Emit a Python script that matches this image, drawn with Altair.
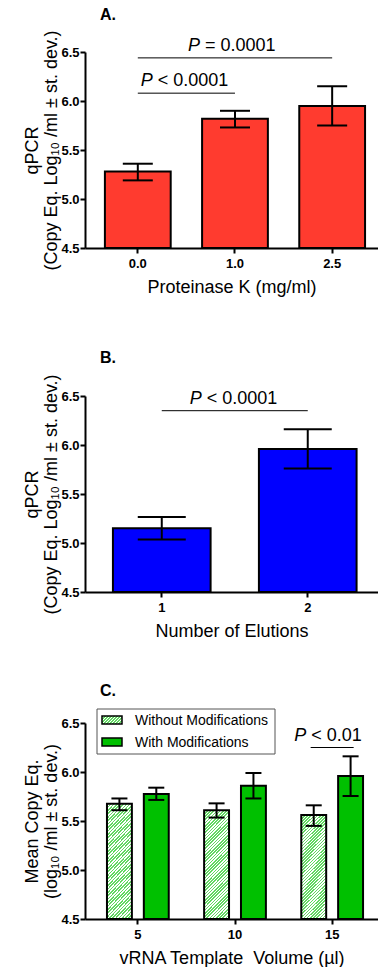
import altair as alt
import pandas as pd

FONT = "Liberation Sans"

# ---------------- data ----------------
# Panel A
a_cats = ["0.0", "1.0", "2.5"]
a_mean = [5.28, 5.82, 5.95]
a_lo = [5.19, 5.73, 5.75]
a_hi = [5.36, 5.90, 6.15]
a_sig_from = ["0.0", "0.0"]
a_sig_to = ["1.0", "2.5"]
a_sig_y = [6.08, 6.44]
a_sig_txt = ["< 0.0001", "= 0.0001"]

# Panel B
b_cats = ["1", "2"]
b_mean = [5.15, 5.96]
b_lo = [5.035, 5.76]
b_hi = [5.265, 6.16]
b_sig_from = ["1"]
b_sig_to = ["2"]
b_sig_y = [6.35]
b_sig_txt = ["< 0.0001"]

# Panel C
c_vols = ["5", "10", "15"]
c_series = ["Without Modifications", "With Modifications"]
c_without_mean = [5.675, 5.61, 5.56]
c_without_lo = [5.61, 5.535, 5.45]
c_without_hi = [5.73, 5.68, 5.66]
c_with_mean = [5.775, 5.86, 5.96]
c_with_lo = [5.715, 5.73, 5.755]
c_with_hi = [5.84, 5.99, 6.16]
c_sig_at = ["15"]
c_sig_y = [6.25]
c_sig_txt = ["< 0.01"]

titles = ["A.", "B.", "C."]
a_xtitle = "Proteinase K (mg/ml)"
b_xtitle = "Number of Elutions"
c_xtitle = "vRNA Template\u00a0 Volume (\u00b5l)"
ab_ytitle = ["qPCR", "(Copy Eq. Log\u2081\u2080 /ml \u00b1 st. dev.)"]
c_ytitle = ["Mean Copy Eq.", "(log\u2081\u2080 /ml \u00b1 st. dev.)"]

# ---------------- styling ----------------
W, H = 293, 196
RED = "#ff3b2f"
BLUE = "#0000ff"
GREEN = "#00c000"
HATCH = "#62d862"

yscale = alt.Scale(domain=[4.5, 6.5], zero=False, nice=False)
yvals = [4.5, 5.0, 5.5, 6.0, 6.5]


def hatch(w, h, period=3.2, c1=HATCH, c2="#ffffff"):
    s = w * w + h * h
    x2 = w * (w + h) / s
    y2 = h * (w + h) / s
    L = (w + h) / 2 ** 0.5
    perp = period / 2 ** 0.5
    n = int(L / perp) + 1
    stops = []
    for i in range(n):
        o0 = min(i * perp / L, 1)
        o1 = min((i + 0.5) * perp / L, 1)
        o2 = min((i + 1) * perp / L, 1)
        stops += [
            alt.GradientStop(offset=o0, color=c1),
            alt.GradientStop(offset=o1, color=c1),
            alt.GradientStop(offset=o1, color=c2),
            alt.GradientStop(offset=o2, color=c2),
        ]
    return alt.LinearGradient(gradient="linear", stops=stops, x1=0, y1=0, x2=x2, y2=y2)


def yenc(field, title):
    return alt.Y(f"{field}:Q", scale=yscale,
                 axis=alt.Axis(values=yvals, format=".1f", title=title))


def panel_title(t, dy):
    return alt.Chart(pd.DataFrame({"t": [t]})).mark_text(
        font=FONT, fontSize=16, fontWeight="bold", align="left", baseline="middle", color="black"
    ).encode(x=alt.value(15), y=alt.value(dy), text="t:N")


def sig_layers(df, xdef, dx, ydef):
    p = alt.Chart(df).mark_text(
        text="P", font=FONT, fontSize=18, fontStyle="italic", align="right",
        baseline="alphabetic", dx=dx, dy=-7, color="black"
    ).encode(x=xdef, y=ydef)
    rest = alt.Chart(df).mark_text(
        font=FONT, fontSize=18, align="left", baseline="alphabetic", dx=dx + 5, dy=-7, color="black"
    ).encode(x=xdef, y=ydef, text="txt:N")
    return [p, rest]


# ---------------- panel A ----------------
a_df = pd.DataFrame({"dose": a_cats, "mean": a_mean, "lo": a_lo, "hi": a_hi})
a_scale = alt.Scale(domain=a_cats, paddingInner=0.323, paddingOuter=0.169, align=0.606)
ax = alt.X("dose:N", scale=a_scale, axis=alt.Axis(title=a_xtitle, labelAngle=0))
a_sig = pd.DataFrame({"dose": a_sig_from, "dose2": a_sig_to, "y": a_sig_y, "txt": a_sig_txt})

a_bars = alt.Chart(a_df).mark_bar(fill=RED, stroke="black", strokeWidth=2).encode(
    x=ax, y=yenc("mean", ab_ytitle), y2=alt.datum(4.5))
a_err = alt.Chart(a_df).mark_rule(color="black", strokeWidth=2).encode(x=ax, y="lo:Q", y2="hi:Q")
a_cap1 = alt.Chart(a_df).mark_tick(orient="horizontal", size=30, thickness=2, color="black", opacity=1).encode(x=ax, y="lo:Q")
a_cap2 = alt.Chart(a_df).mark_tick(orient="horizontal", size=30, thickness=2, color="black", opacity=1).encode(x=ax, y="hi:Q")
a_rules = alt.Chart(a_sig).mark_rule(color="black", strokeWidth=1).encode(x=ax, x2="dose2:N", y="y:Q")
a_t1 = sig_layers(a_sig.iloc[[0]], ax, 15, "y:Q")
a_t2 = sig_layers(a_sig.iloc[[1]].assign(dose="1.0"), ax, -35, "y:Q")

chartA = alt.layer(a_bars, a_err, a_cap1, a_cap2, a_rules, *a_t1, *a_t2,
                   panel_title(titles[0], -37)).properties(width=W, height=H)

# ---------------- panel B ----------------
b_df = pd.DataFrame({"n": b_cats, "mean": b_mean, "lo": b_lo, "hi": b_hi})
b_scale = alt.Scale(domain=b_cats, paddingInner=0.331, paddingOuter=0.169, align=0.566)
bx = alt.X("n:N", scale=b_scale, axis=alt.Axis(title=b_xtitle, labelAngle=0))
b_sig = pd.DataFrame({"n": b_sig_from, "n2": b_sig_to, "y": b_sig_y, "txt": b_sig_txt})

b_bars = alt.Chart(b_df).mark_bar(fill=BLUE, stroke="black", strokeWidth=2).encode(
    x=bx, y=yenc("mean", ab_ytitle), y2=alt.datum(4.5))
b_err = alt.Chart(b_df).mark_rule(color="black", strokeWidth=2).encode(x=bx, y="lo:Q", y2="hi:Q")
b_cap1 = alt.Chart(b_df).mark_tick(orient="horizontal", size=48, thickness=2, color="black", opacity=1).encode(x=bx, y="lo:Q")
b_cap2 = alt.Chart(b_df).mark_tick(orient="horizontal", size=48, thickness=2, color="black", opacity=1).encode(x=bx, y="hi:Q")
b_rules = alt.Chart(b_sig).mark_rule(color="black", strokeWidth=1).encode(x=bx, x2="n2:N", y="y:Q")
b_t = sig_layers(b_sig, bx, 40, "y:Q")

chartB = alt.layer(b_bars, b_err, b_cap1, b_cap2, b_rules, *b_t,
                   panel_title(titles[1], -38)).properties(width=W, height=H)

# ---------------- panel C ----------------
c_df = pd.DataFrame({
    "vol": c_vols * 2,
    "series": [c_series[0]] * 3 + [c_series[1]] * 3,
    "mean": c_without_mean + c_with_mean,
    "lo": c_without_lo + c_with_lo,
    "hi": c_without_hi + c_with_hi,
})
c_scale = alt.Scale(domain=c_vols, paddingInner=0.364, paddingOuter=0.19, align=0.595)
cx = alt.X("vol:N", scale=c_scale, axis=alt.Axis(title=c_xtitle, labelAngle=0))
cxo = alt.XOffset("series:N", scale=alt.Scale(domain=c_series, paddingInner=0.324, paddingOuter=0))
c_sig = pd.DataFrame({"vol": c_sig_at, "y": c_sig_y, "txt": c_sig_txt})

c_without = alt.Chart(c_df).transform_filter(alt.datum.series == c_series[0]).mark_bar(
    fill=hatch(25, 108), stroke="black", strokeWidth=2).encode(
    x=cx, xOffset=cxo, y=yenc("mean", c_ytitle), y2=alt.datum(4.5))
c_with = alt.Chart(c_df).transform_filter(alt.datum.series == c_series[1]).mark_bar(
    fill=GREEN, stroke="black", strokeWidth=2).encode(
    x=cx, xOffset=cxo, y=yenc("mean", c_ytitle), y2=alt.datum(4.5))
c_err = alt.Chart(c_df).mark_rule(color="black", strokeWidth=2).encode(x=cx, xOffset=cxo, y="lo:Q", y2="hi:Q")
c_cap1 = alt.Chart(c_df).mark_tick(orient="horizontal", size=16, thickness=2, color="black", opacity=1).encode(x=cx, xOffset=cxo, y="lo:Q")
c_cap2 = alt.Chart(c_df).mark_tick(orient="horizontal", size=16, thickness=2, color="black", opacity=1).encode(x=cx, xOffset=cxo, y="hi:Q")
c_rule = alt.Chart(c_sig).mark_tick(orient="horizontal", size=43, thickness=1, color="black", opacity=1).encode(x=cx, y="y:Q")
c_t = sig_layers(c_sig, cx, -26, "y:Q")

leg_df = pd.DataFrame({"series": c_series})
leg_box = alt.Chart(leg_df.iloc[[0]]).mark_rect(fill="white", stroke="#555555", strokeWidth=1).encode(
    x=alt.value(12), x2=alt.value(190), y=alt.value(-14), y2=alt.value(31))
leg_sw1 = alt.Chart(leg_df.iloc[[0]]).mark_rect(fill=hatch(20, 8, period=3.0), stroke="black", strokeWidth=1.5).encode(
    x=alt.value(17), x2=alt.value(37), y=alt.value(-7), y2=alt.value(1))
leg_sw2 = alt.Chart(leg_df.iloc[[1]]).mark_rect(fill=GREEN, stroke="black", strokeWidth=1.5).encode(
    x=alt.value(17), x2=alt.value(37), y=alt.value(15), y2=alt.value(23))
leg_t1 = alt.Chart(leg_df.iloc[[0]]).mark_text(font=FONT, fontSize=14, align="left", baseline="middle", color="black").encode(
    x=alt.value(50), y=alt.value(-2), text="series:N")
leg_t2 = alt.Chart(leg_df.iloc[[1]]).mark_text(font=FONT, fontSize=14, align="left", baseline="middle", color="black").encode(
    x=alt.value(50), y=alt.value(20), text="series:N")

chartC = alt.layer(c_without, c_with, c_err, c_cap1, c_cap2, c_rule, *c_t,
                   leg_box, leg_sw1, leg_sw2, leg_t1, leg_t2,
                   panel_title(titles[2], -32)).properties(width=W, height=H)

top = alt.vconcat(chartA, chartB, spacing=54)
chart = alt.vconcat(top, chartC, spacing=43).properties(
    padding={"left": 23, "top": 7, "right": 0, "bottom": 0}
).configure_view(strokeWidth=0).configure_axis(
    grid=False,
    domainColor="black", domainWidth=2,
    tickColor="black", tickWidth=2, tickSize=5,
    labelColor="black", labelFont=FONT, labelFontSize=13, labelFontWeight="bold",
    labelPadding=1,
    titleColor="black", titleFont=FONT, titleFontSize=18, titleFontWeight="normal",
    titleLineHeight=19, titlePadding=0,
).configure_axisX(labelPadding=4, titlePadding=8)

chart.save("out.html", embed_options={"renderer": "svg", "actions": False})
